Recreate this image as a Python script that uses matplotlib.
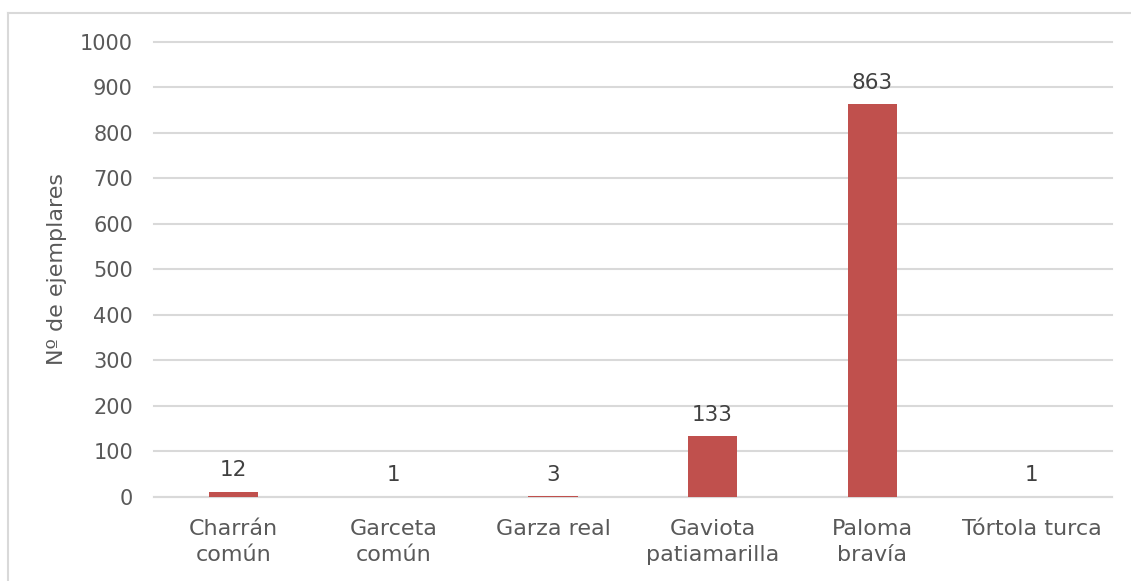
import matplotlib
matplotlib.use('Agg')
import matplotlib.pyplot as plt
from matplotlib.lines import Line2D

# Species counts
species = ['Charrán\ncomún', 'Garceta\ncomún', 'Garza real', 'Gaviota\npatiamarilla', 'Paloma\nbravía', 'Tórtola turca']
counts = [12, 1, 3, 133, 863, 1]
yticks = [0, 100, 200, 300, 400, 500, 600, 700, 800, 900, 1000]

bar_color = '#C0504D'
text_color = '#595959'
grid_color = '#D9D9D9'

plt.rcParams['font.family'] = ['DejaVu Sans']

fig = plt.figure(figsize = (11.31, 5.81), dpi = 100)
ax = fig.add_axes([0.136, 0.1446, 0.983 - 0.136, 0.928 - 0.1446])

x = list(range(len(species)))
bars = ax.bar(x, counts, width = 0.31, color = bar_color, zorder = 3)

for xi, v in zip(x, counts):
	ax.annotate(str(v), (xi, v), xytext = (0, 8), textcoords = 'offset points',
		ha = 'center', va = 'bottom', fontsize = 15.5, color = '#404040')

ax.set_xlim(-0.5, len(species) - 0.5)
ax.set_ylim(0, 1000)
ax.set_yticks(yticks)
ax.set_xticks(x)
ax.set_xticklabels(species, fontsize = 16, color = text_color, linespacing = 1.38)
ax.tick_params(axis = 'y', labelsize = 15, labelcolor = text_color, length = 0, pad = 15)
ax.tick_params(axis = 'x', length = 0, pad = 16)
ax.grid(axis = 'y', color = grid_color, linewidth = 1.5, zorder = 0)
for gl in ax.get_ygridlines():
	gl.set_clip_on(False)
for s in ['top', 'right', 'left']:
	ax.spines[s].set_visible(False)
ax.spines['bottom'].set_color(grid_color)
ax.spines['bottom'].set_linewidth(1.5)
ax.set_ylabel('Nº de ejemplares', fontsize = 16, color = text_color, labelpad = 9)

# Chart frame
fx = 7.5 / 1131
fy = 1 - 12.5 / 581
fig.add_artist(Line2D([fx, fx], [0, fy], color = grid_color, linewidth = 1.5, transform = fig.transFigure))
fig.add_artist(Line2D([fx, 1], [fy, fy], color = grid_color, linewidth = 1.5, transform = fig.transFigure))

fig.savefig('out.png', dpi = 100)
